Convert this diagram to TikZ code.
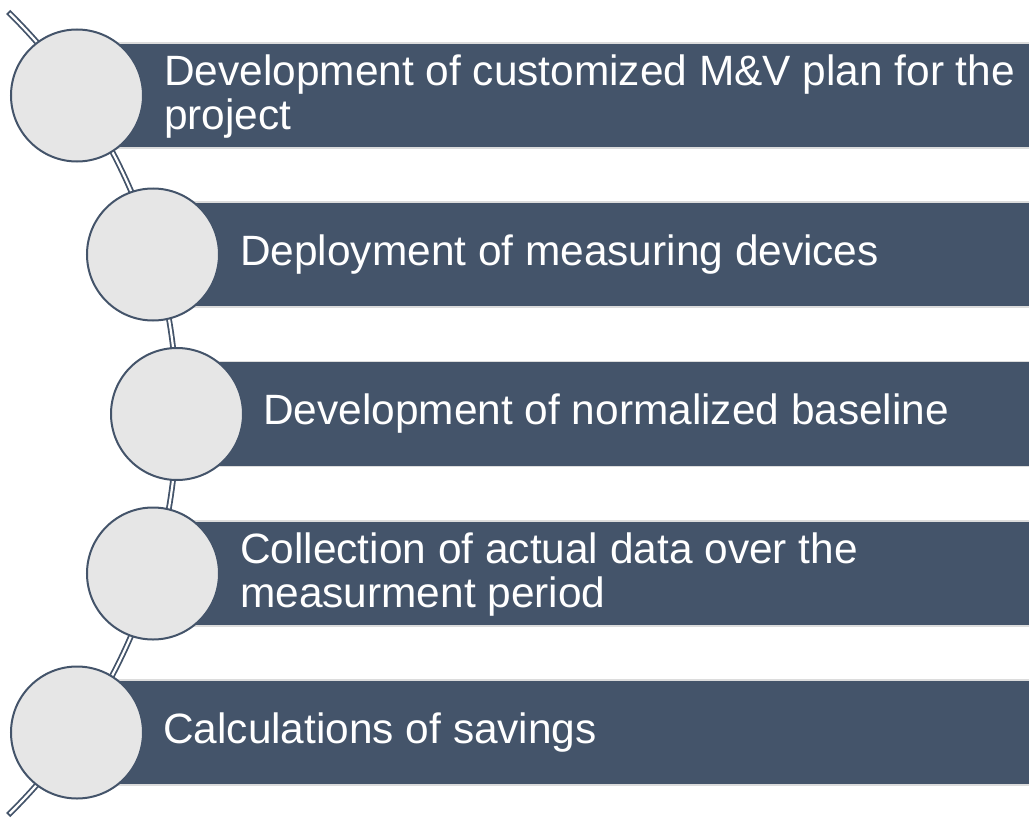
\documentclass[tikz,border=0pt]{standalone}
\usepackage{fontspec}
\setmainfont{Liberation Sans}
\definecolor{barblue}{HTML}{44546A}
\definecolor{circfill}{HTML}{E6E6E6}
\definecolor{barline}{HTML}{DCDCDC}
\tikzset{
  bar/.style={rectangle, fill=barblue, draw=barline, line width=1.5bp, minimum height=105bp, inner sep=0pt, anchor=west},
  stepcircle/.style={circle, fill=circfill, draw=barblue, line width=2bp, minimum size=132bp, inner sep=0pt},
  label/.style={anchor=west, inner sep=0pt, align=left, text=white, font=\fontsize{42.4bp}{44bp}\selectfont},
  spineout/.style={draw=barblue, line width=5.8bp},
  spinein/.style={draw=white, line width=2.2bp}
}
\begin{document}
\begin{tikzpicture}[x=1bp,y=-1bp]
\useasboundingbox (0,0) rectangle (1029,819);
% spine arc
\coordinate (arcc) at (-385,413.5);
\draw[spineout] (arcc) ++(45.6:562) arc[start angle=45.6, end angle=-45.6, radius=562];
\draw[spinein] (arcc) ++(45.4:562) arc[start angle=45.4, end angle=-45.4, radius=562];
% bars
\node[bar, minimum width=952bp] (b1) at (77,95.5) {};
\node[bar, minimum width=876bp] (b2) at (153,254.5) {};
\node[bar, minimum width=852bp] (b3) at (177,414) {};
\node[bar, minimum width=876bp] (b4) at (153,573.5) {};
\node[bar, minimum width=952bp] (b5) at (77,732.5) {};
% circles
\node[stepcircle] (c1) at (77,95.5) {};
\node[stepcircle] (c2) at (153,254.5) {};
\node[stepcircle] (c3) at (177,414) {};
\node[stepcircle] (c4) at (153,573.5) {};
\node[stepcircle] (c5) at (77,732.5) {};
% labels
\node[label] (t1) at (164,97) {Development of customized M\&V plan for the\\project};
\node[label] (t2) at (240,254.5) {Deployment of measuring devices};
\node[label] (t3) at (263,414) {Development of normalized baseline};
\node[label] (t4) at (240,575) {Collection of actual data over the\\measurment period};
\node[label] (t5) at (163,732.5) {Calculations of savings};
\end{tikzpicture}
\end{document}
